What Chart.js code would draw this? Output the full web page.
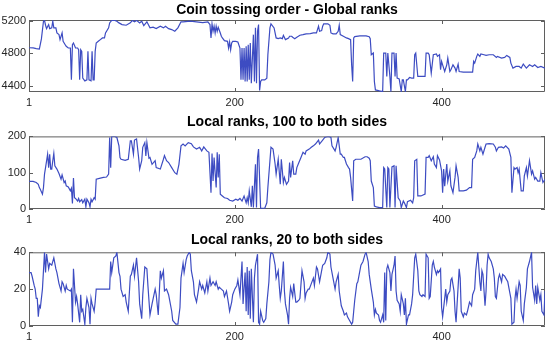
<!DOCTYPE html>
<html>
<head>
<meta charset="utf-8">
<script src="https://cdn.jsdelivr.net/npm/chart.js@4.4.0/dist/chart.umd.min.js"></script>
<style>
  html, body { margin: 0; padding: 0; background: #fff; }
  body { width: 550px; height: 344px; position: relative; overflow: hidden; }
  canvas { position: absolute; left: 0; }
</style>
</head>
<body>
<canvas id="c1" width="550" height="108" style="top:0"></canvas>
<canvas id="c2" width="550" height="118" style="top:108px"></canvas>
<canvas id="c3" width="550" height="118" style="top:226px"></canvas>
<script>
// tick labels
const xTicks = [1, 200, 400];
const globalTicks = [4400, 4800, 5200];
const local100Ticks = [0, 100, 200];
const local20Ticks = [0, 20, 40];

// Coin tossing order - Global ranks (index, rank)
const globalIdx = [1,5,8,11,13,15,16,17,18,20,21,23,24,25,27,28,30,31,33,34,36,37,39,41,42,43,44,46,48,49,50,51,52,53,55,57,58,59,61,62,63,64,65,66,68,70,72,74,75,78,79,81,84,86,88,91,95,99,101,103,105,108,110,112,115,118,121,124,128,131,133,136,139,142,145,148,150,157,163,169,174,176,177,178,179,180,181,182,183,184,186,187,188,190,193,194,195,196,197,198,201,203,205,206,207,208,209,210,211,212,213,214,215,216,218,219,220,221,222,223,224,225,226,229,231,232,234,235,238,240,242,244,246,247,249,252,253,255,256,258,260,263,266,269,273,276,279,281,282,284,285,286,290,292,293,295,298,300,301,302,305,308,310,312,313,314,315,316,321,327,330,331,332,334,335,336,340,343,344,346,347,348,350,351,352,354,355,356,357,359,361,362,363,365,366,367,369,371,373,374,375,377,380,384,385,387,388,390,392,395,396,398,399,400,401,403,405,406,408,409,411,413,414,416,417,421,424,427,430,431,432,434,435,437,438,441,443,446,450,453,454,458,461,463,466,467,469,472,475,477,479,482,485,488,490,493,496,500];
const globalRank = [4870,4868,4860,4854,4980,5200,5210,5150,5108,5158,5108,5117,5200,5117,5117,5054,5033,4971,5054,4950,4908,4888,4867,4867,4471,4908,4929,4867,4867,4846,4471,4846,4825,4492,4458,4471,4825,4471,4458,4825,4471,4471,4825,4929,4950,4971,4992,4992,5054,5117,5179,5210,5210,5200,5179,5158,5150,5179,5210,5192,5210,5179,5200,5146,5192,5117,5125,5108,5138,5117,5138,5108,5096,5075,5117,5192,5192,5200,5192,5183,5192,5158,4992,5167,5075,5138,5054,5138,5075,5125,5054,5013,4992,4958,4950,4867,4942,4846,4929,4950,4950,4942,4867,4471,4867,4471,4867,4450,4888,4450,4908,4471,4929,4429,5033,4450,5117,4429,5075,5158,4340,4450,4471,4471,4492,4783,5117,5167,5117,4992,4983,4992,4983,5025,4971,4992,5013,5013,5000,4983,5000,5025,5033,5042,5046,5054,5054,5138,5075,5083,5138,5167,5167,5150,5054,5042,5042,5075,5150,5033,5013,4992,4983,4971,4658,4450,4992,5008,5017,5017,5008,4983,4783,4804,4450,4346,4333,4325,4804,4804,4513,4804,4513,4325,4804,4804,4513,4804,4492,4483,4325,4471,4471,4325,4471,4471,4500,4492,4492,4783,4804,4513,4513,4513,4804,4804,4783,4554,4783,4792,4763,4783,4596,4700,4658,4575,4658,4742,4575,4596,4658,4617,4575,4667,4575,4567,4567,4567,4567,4700,4679,4763,4792,4763,4792,4783,4775,4783,4783,4750,4763,4742,4750,4775,4750,4679,4617,4638,4638,4617,4667,4617,4658,4638,4658,4625,4638,4617];

// Local ranks, 100 to both sides
const local100Idx = [1,5,8,10,11,12,14,15,16,17,19,20,21,22,23,24,25,26,28,30,32,33,35,36,37,39,41,42,43,44,45,46,48,49,50,52,53,55,56,57,59,60,61,62,64,65,66,70,73,76,78,79,80,81,84,86,88,89,90,94,97,99,100,102,103,105,107,108,110,111,113,114,115,117,118,120,123,124,128,131,132,134,136,139,142,144,146,148,150,152,155,158,160,163,166,168,170,173,175,177,178,179,180,182,183,184,185,186,188,190,193,195,198,201,203,205,207,209,211,212,213,214,216,217,218,220,221,222,223,225,227,229,231,232,234,235,237,239,240,242,244,245,247,248,250,252,253,254,256,257,259,260,262,264,266,268,269,272,274,276,278,281,282,285,287,289,291,293,294,297,298,300,302,303,305,306,308,310,311,312,314,315,317,319,322,326,328,330,331,332,334,335,337,340,343,344,345,347,348,349,350,352,354,355,356,358,360,361,363,364,366,367,370,372,373,374,376,377,380,384,385,387,388,390,392,393,395,396,398,400,401,402,403,405,406,408,409,411,413,414,416,417,421,424,427,429,430,432,434,435,437,438,440,442,443,446,450,452,453,455,458,460,462,465,467,468,470,471,473,474,475,477,479,480,482,483,485,487,488,490,491,493,495,496,498,500];
const local100Rank = [76,76,73,68,59,54,41,59,96,114,151,114,151,110,110,133,153,119,110,98,82,94,73,77,64,61,50,57,15,85,31,29,22,29,20,26,17,27,6,27,17,6,27,20,31,27,82,85,87,88,96,197,114,200,200,197,174,142,137,134,137,188,188,151,190,193,142,110,133,170,183,146,183,140,142,123,133,114,110,137,147,133,128,114,100,96,123,174,179,174,183,180,171,165,170,160,171,160,156,45,153,77,142,59,156,87,151,41,36,31,29,24,22,27,24,29,22,36,17,31,17,50,6,64,4,123,4,142,165,2,2,2,17,59,133,170,165,124,96,137,68,137,73,87,68,77,128,87,133,96,96,114,128,142,156,151,160,165,170,174,179,190,179,190,197,199,200,197,174,160,170,197,151,151,142,142,124,114,110,87,22,133,137,137,137,144,144,140,133,77,59,8,6,4,4,114,110,4,114,110,4,116,119,4,119,31,22,4,22,17,4,20,24,17,31,133,137,36,36,41,142,142,147,133,144,124,114,147,135,105,45,110,63,124,77,105,64,45,87,119,87,50,50,52,59,59,137,142,160,179,160,170,151,170,179,180,179,170,160,170,171,168,174,165,142,45,114,110,114,100,110,50,50,91,114,91,133,96,105,82,87,77,77,100,73,82];

// Local ranks, 20 to both sides
const local20Idx = [1,3,4,6,7,8,9,10,11,12,14,16,17,18,20,21,23,25,27,28,30,32,33,34,36,37,38,41,42,43,44,46,47,48,50,51,52,53,55,56,57,59,60,61,62,64,65,66,70,73,76,79,80,81,83,85,86,88,89,90,92,94,95,97,99,100,102,103,105,107,108,110,111,113,115,116,118,120,123,124,126,128,129,131,132,134,136,137,139,140,143,145,147,148,150,151,153,154,156,157,158,160,161,163,165,166,168,169,171,173,174,176,177,179,181,182,184,185,187,189,190,192,194,195,197,198,200,202,203,205,206,207,208,210,211,212,213,214,215,216,218,219,220,222,223,224,225,227,228,230,231,233,234,235,237,239,240,242,243,244,245,247,248,249,251,252,253,254,256,257,259,260,262,263,265,267,268,269,271,272,274,276,277,279,280,282,284,285,287,289,290,292,293,295,297,298,300,301,303,305,306,308,309,311,313,314,315,316,318,319,321,322,324,326,327,329,330,332,334,335,336,337,339,340,341,343,344,345,346,347,348,350,351,352,354,355,356,357,359,360,361,363,364,365,366,368,369,371,372,374,375,377,378,379,381,382,384,385,387,388,389,391,392,393,395,396,397,399,400,401,403,404,405,406,408,409,410,412,413,414,415,417,418,419,421,422,424,425,427,429,430,432,433,435,437,438,439,440,442,443,444,445,446,448,450,451,452,453,455,456,458,459,461,462,464,466,467,468,470,471,472,473,475,476,477,479,480,482,483,485,487,488,490,491,492,493,495,496,497,499,500];
const local20Rank = [29,29,27,22,20,15,15,5,11,10,20,40,29,39,31,34,33,37,31,29,23,19,24,23,19,22,20,19,20,2,31,13,16,12,2,17,8,9,1,10,15,10,1,15,12,8,13,20,20,20,20,20,35,29,37,38,40,29,27,20,16,17,13,8,27,28,33,27,37,24,12,4,17,32,31,22,6,12,20,17,6,30,26,30,19,20,17,14,8,3,1,1,10,26,34,29,36,38,40,39,30,24,17,13,20,24,20,22,18,24,19,26,22,24,22,24,20,21,20,19,16,19,12,8,13,17,20,22,25,17,26,35,12,29,8,32,6,30,4,31,2,26,33,39,2,1,8,3,2,4,12,24,36,40,39,33,26,30,22,15,19,35,19,12,6,1,15,21,16,23,13,13,14,15,30,24,15,18,20,20,23,26,22,32,31,24,30,33,34,37,40,39,32,26,20,24,28,19,11,8,6,7,5,3,1,2,8,14,23,24,30,33,35,39,40,35,28,20,13,6,9,7,6,3,2,6,2,29,3,31,33,29,19,28,33,38,19,14,12,8,17,12,6,15,1,6,6,12,17,37,39,30,19,17,16,17,16,39,37,15,16,33,35,32,28,30,29,31,10,5,15,20,13,17,19,25,26,19,8,2,12,31,26,8,5,7,6,8,13,11,17,20,30,40,24,19,30,28,11,19,33,39,37,35,31,26,16,15,26,28,24,28,27,26,24,18,15,1,2,15,20,15,24,22,8,3,12,21,31,35,40,21,14,22,12,21,14,17,8,6,19];

const textColor = '#262626';
const lineColor = '#3d4cc2';
const fontFamily = '"Liberation Sans", Arial, Helvetica, sans-serif';

// axes box with inward ticks, like the original
const boxPlugin = {
  id: 'box',
  beforeDatasetsDraw(chart) {
    const { ctx, chartArea: a, scales } = chart;
    ctx.save();
    ctx.strokeStyle = '#5f5f5f';
    ctx.lineWidth = 1;
    ctx.beginPath();
    ctx.rect(a.left + 0.5, a.top + 0.5, a.right - a.left - 1, a.bottom - a.top - 1);
    scales.x.ticks.forEach(t => {
      const px = Math.round(scales.x.getPixelForValue(t.value)) + 0.5;
      ctx.moveTo(px, a.bottom); ctx.lineTo(px, a.bottom - 4);
      ctx.moveTo(px, a.top); ctx.lineTo(px, a.top + 4);
    });
    scales.y.ticks.forEach(t => {
      const py = Math.round(scales.y.getPixelForValue(t.value)) + 0.5;
      ctx.moveTo(a.left, py); ctx.lineTo(a.left + 4, py);
      ctx.moveTo(a.right, py); ctx.lineTo(a.right - 4, py);
    });
    ctx.stroke();
    ctx.restore();
  }
};

function makeChart(id, title, titlePad, xHeight, xs, ys, yMin, yMax, yTicks) {
  return new Chart(document.getElementById(id), {
    type: 'line',
    data: {
      datasets: [{
        data: xs.map((x, i) => ({ x: x, y: ys[i] })),
        borderColor: lineColor,
        borderWidth: 1.2,
        pointRadius: 0,
        tension: 0,
        fill: false
      }]
    },
    options: {
      responsive: false,
      animation: false,
      layout: { padding: { left: 0, right: 5, top: 0, bottom: 0 } },
      plugins: {
        legend: { display: false },
        tooltip: { enabled: false },
        title: {
          display: true,
          text: title,
          fullSize: false,
          color: '#000',
          font: { family: fontFamily, size: 14, weight: 'bold', lineHeight: 1.2 },
          padding: titlePad
        }
      },
      scales: {
        x: {
          type: 'linear',
          min: 1,
          max: 500,
          afterBuildTicks: s => { s.ticks = xTicks.map(v => ({ value: v })); },
          afterFit: s => { s.height = xHeight; },
          grid: { display: false, drawTicks: false },
          border: { display: false },
          ticks: { color: textColor, font: { family: fontFamily, size: 11 }, padding: 4, maxRotation: 0,
                   callback: v => String(v) }
        },
        y: {
          min: yMin,
          max: yMax,
          afterBuildTicks: s => { s.ticks = yTicks.map(v => ({ value: v })); },
          afterFit: s => { s.width = 29; },
          grid: { display: false, drawTicks: false },
          border: { display: false },
          ticks: { color: textColor, font: { family: fontFamily, size: 11 }, padding: 3,
                   callback: v => String(v) }
        }
      }
    },
    plugins: [boxPlugin]
  });
}

makeChart('c1', 'Coin tossing order - Global ranks', { top: 2, bottom: 1.2 }, 16,
  globalIdx, globalRank, 4320, 5215, globalTicks);
makeChart('c2', 'Local ranks, 100 to both sides', { top: 5.6, bottom: 6 }, 17,
  local100Idx, local100Rank, 0, 200, local100Ticks);
makeChart('c3', 'Local ranks, 20 to both sides', { top: 5.6, bottom: 3.9 }, 18,
  local20Idx, local20Rank, 0, 40, local20Ticks);
</script>
</body>
</html>
